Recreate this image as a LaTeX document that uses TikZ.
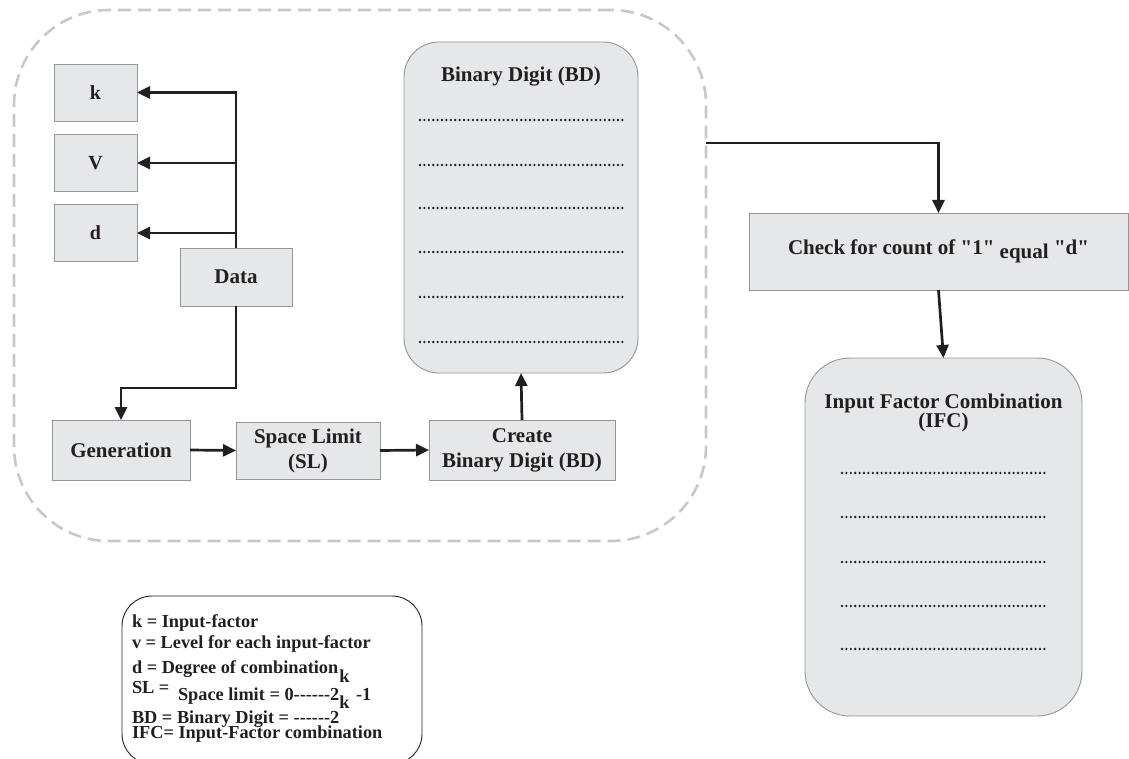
\documentclass[tikz,border=0pt]{standalone}
\usepackage{fontspec}
\setmainfont{Liberation Serif}[Ligatures=TeXOff]
\usetikzlibrary{arrows.meta}
\definecolor{ink}{HTML}{231F20}
\definecolor{boxfill}{HTML}{E6E7E8}
\definecolor{boxline}{HTML}{939598}
\definecolor{groupline}{HTML}{C7C8CA}

\begin{document}
\begin{tikzpicture}[x=1pt,y=-1pt,
  every node/.style={text=ink, inner sep=0pt, outer sep=0pt},
  mainfont/.style={font=\fontsize{21}{25}\selectfont\bfseries},
  notefont/.style={font=\fontsize{18.3}{20}\selectfont\bfseries},
  box/.style={draw=boxline, fill=boxfill, line width=0.9pt, mainfont, align=center},
  roundbox/.style={box, rounded corners=#1},
  arr/.style={draw=ink, line width=2.7pt, -{Triangle[length=13pt,width=12pt]}},
  dotrow/.style={draw=ink, line width=2.6pt, line cap=round, dash pattern=on 0pt off 4.4pt},
  note/.style={notefont, anchor=base west},
]
\useasboundingbox (0,0) rectangle (1129,759);
\clip (0,0) rectangle (1129,759);

% dashed group around the generation stage
\node[draw=groupline, line width=2.6pt, dash pattern=on 13pt off 7pt,
      rounded corners=95pt, minimum width=692, minimum height=531] (group) at (360,275.5) {};

% input parameters
\node[box, font=\fontsize{20}{24}\selectfont\bfseries, minimum width=83, minimum height=57] (k) at (95.5,92.5) {k};
\node[box, font=\fontsize{20}{24}\selectfont\bfseries, minimum width=83, minimum height=57] (v) at (95.5,163) {V};
\node[box, font=\fontsize{20}{24}\selectfont\bfseries, minimum width=83, minimum height=57] (d) at (95.5,233) {d};
\node[box, minimum width=112, minimum height=58] (data) at (236,277) {Data};

% processing chain
\node[box, minimum width=138, minimum height=60] (gen) at (121,450) {Generation};
\node[box, minimum width=144, minimum height=57] (sl) at (308,450.5) {Space Limit\\(SL)};
\node[box, minimum width=186, minimum height=60] (cbd) at (522,450) {Create\\Binary Digit (BD)};

% binary digit list
\node[roundbox=35pt, minimum width=234, minimum height=331] (bd) at (521,207.5) {};
\node[mainfont, anchor=base] (bdtitle) at (521,82) {Binary Digit (BD)};
\foreach \y in {120,165,208,252,297,342}
  \draw[dotrow] (420,\y) -- (623,\y);

% filter and result
\node[box, minimum width=379, minimum height=77] (check) at (938.5,251.5)
  {Check for count of "1" \raisebox{-4pt}{equal} "d"};
\node[roundbox=45pt, minimum width=277, minimum height=358] (ifc) at (943.5,537) {};
\node[mainfont, anchor=base] (ifctitle) at (943.5,408) {Input Factor Combination};
\node[mainfont, anchor=base] (ifcabbr) at (943.5,427) {(IFC)};
\foreach \y in {473,517,562,606,649}
  \draw[dotrow] (842,\y) -- (1046,\y);

% connectors
\draw[arr] (data.north) |- (k.east);
\draw[arr] (data.north) |- (v.east);
\draw[arr] (data.north) |- (d.east);
\draw[arr] (data.south) -- ++(0,82) -| (gen.north);
\draw[arr] (gen.east) -- (sl.west);
\draw[arr] (sl.east) -- (cbd.west);
\draw[arr] (cbd.north) -- (bd.south);
\coordinate (gout) at (group.east |- 0,143);
\draw[arr] (gout) -| (check.north);
\draw[arr] (check.south) -- (ifc.north);

% legend
\node[draw=ink, line width=0.9pt, rounded corners=30pt, minimum width=300, minimum height=168] (legend) at (272,680) {};
\node[note] (l1) at (132,627) {k = Input-factor};
\node[note] (l2) at (132,648) {v = Level for each input-factor};
\node[note] (l3) at (132,673) {d = Degree of combination};
\node[note] (l4a) at (132,693) {SL =};
\node[note] (l4b) at (178,700) {Space limit = 0------2};
\node[note] (l4k) at (l4b.base east) [anchor=base west, yshift=18pt] {k};
\node[note] (l4c) at (356,700) {-1};
\node[note] (l5) at (132,723) {BD = Binary Digit = ------2};
\node[note] (l5k) at (l5.base east) [anchor=base west, yshift=15pt] {k};
\node[note] (l6) at (132,738.5) {IFC= Input-Factor combination};
\end{tikzpicture}
\end{document}
